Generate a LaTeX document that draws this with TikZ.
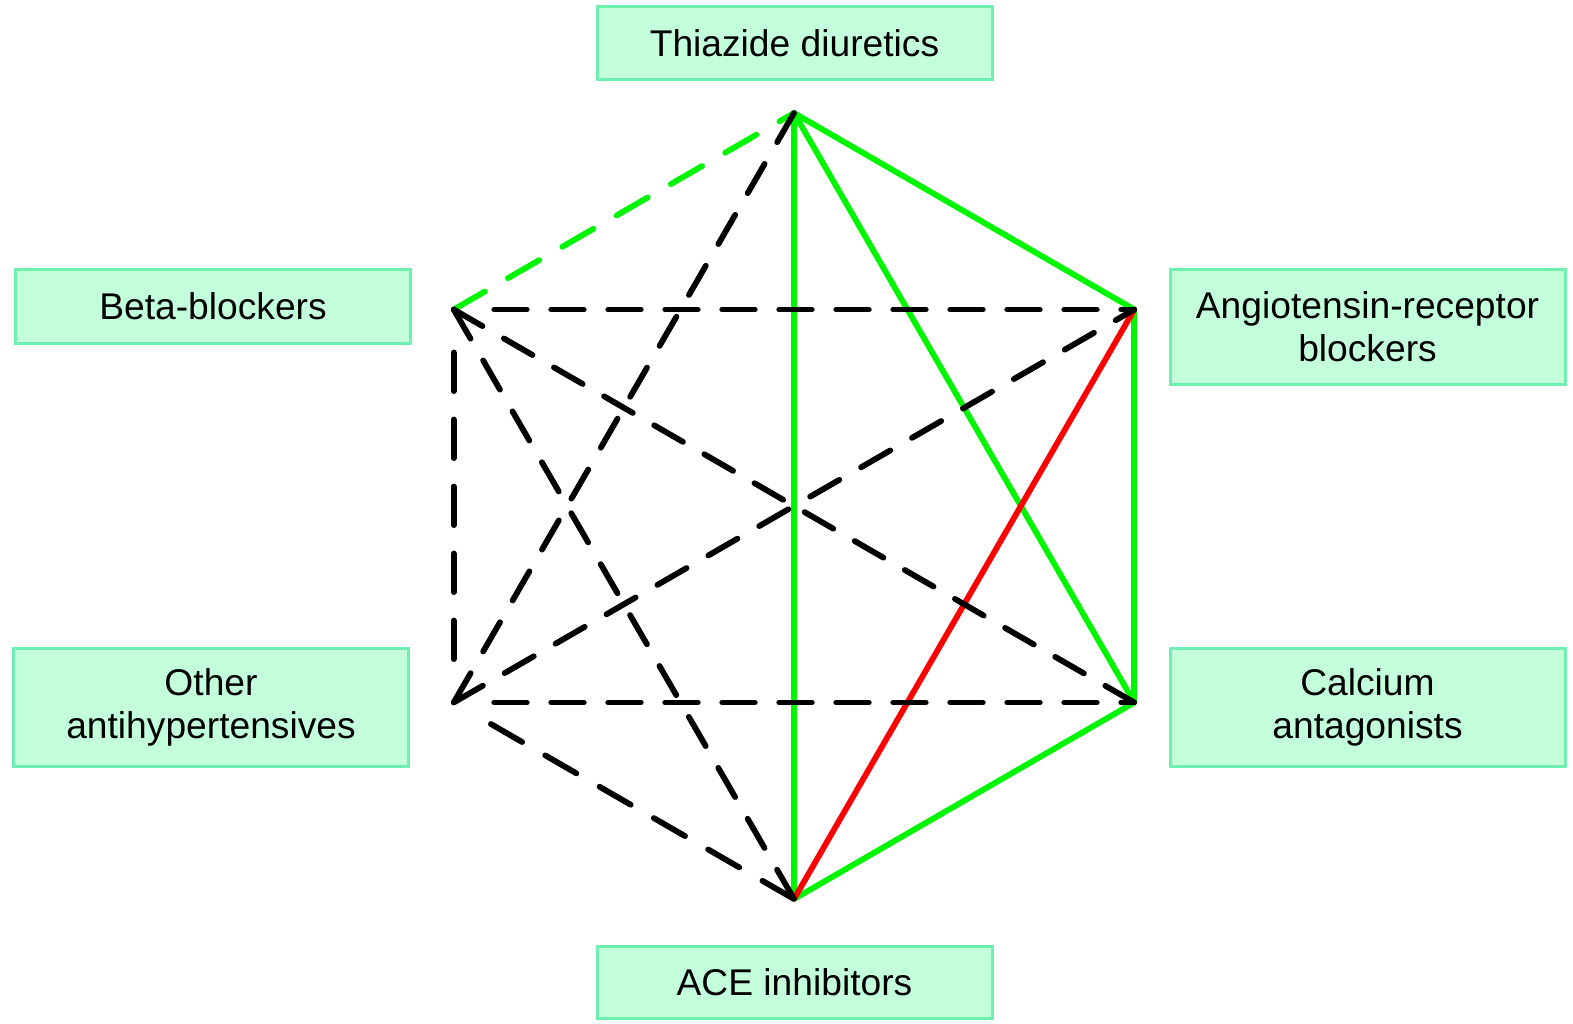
\documentclass[tikz,border=0pt]{standalone}
\usepackage{fontspec}
\setmainfont{Liberation Sans}
\definecolor{boxfill}{RGB}{196,255,220}
\definecolor{boxline}{RGB}{112,240,176}
\definecolor{lgreen}{RGB}{0,245,0}
\definecolor{lred}{RGB}{255,0,0}
\begin{document}
\begin{tikzpicture}[x=0.5pt,y=-0.5pt,
  drug/.style={draw=boxline, fill=boxfill, line width=1.5pt, minimum width=197.5pt,
    align=center, inner sep=0pt, font=\fontsize{18.6}{21.5}\selectfont},
  gline/.style={draw=lgreen, line width=2.9pt},
  rline/.style={draw=lred, line width=2.9pt},
  blk/.style={draw=black, line width=2.9pt, line cap=round},
  gdash/.style={draw=lgreen, line width=2.9pt, line cap=round}]
\useasboundingbox (0,0) rectangle (1573,1023);
% boxes
\node[drug, minimum height=36.5pt] (thz) at (794.5,43) {Thiazide diuretics};
\node[drug, minimum height=37pt] (bb) at (213,306.5) {Beta-blockers};
\node[drug, minimum height=57.5pt] (arb) at (1367.5,327) {Angiotensin-receptor\\blockers};
\node[drug, minimum height=59pt] (oth) at (211,707.5) {Other\\antihypertensives};
\node[drug, minimum height=59pt] (cca) at (1367.5,707.5) {Calcium\\antagonists};
\node[drug, minimum height=36pt] (ace) at (794.5,982.5) {ACE inhibitors};
% hexagon vertices
\coordinate (vT) at (794,113);
\coordinate (vARB) at (1134.3,309.5);
\coordinate (vCA) at (1134.3,702.5);
\coordinate (vACE) at (794,899);
\coordinate (vO) at (453.7,702.5);
\coordinate (vB) at (453.7,309.5);
% green solid
\draw[gline] (vT) -- (vARB);
\draw[gline] (vT) -- (vCA);
\draw[gline] (vT) -- (vACE);
\draw[gline] (vARB) -- (vCA);
\draw[gline] (vCA) -- (vACE);
% red
\draw[rline] (vARB) -- (vACE);
% green dashed
\draw[gdash, dash pattern=on 18pt off 13.35pt] (vB) -- (vT);
% black dashed
\draw[blk, dash pattern=on 16.85pt off 12.55pt] (vT) -- (vO);
\draw[blk, dash pattern=on 16.3pt off 12.2pt, shorten <=20.25pt] (vB) -- (vARB);
\draw[blk, dash pattern=on 16.585pt off 12.355pt] (vB) -- (vCA);
\draw[blk, dash pattern=on 19.3pt off 14.2pt, shorten <=21.5pt, shorten >=21.5pt] (vB) -- (vO);
\draw[blk, dash pattern=on 16.85pt off 12.55pt] (vB) -- (vACE);
\draw[blk, dash pattern=on 16.85pt off 12.55pt] (vO) -- (vARB);
\draw[blk, dash pattern=on 16.3pt off 12.2pt, shorten <=20.25pt] (vO) -- (vCA);
\draw[blk, dash pattern=on 18pt off 13.35pt, shorten <=21.5pt] (vO) -- (vACE);
\end{tikzpicture}
\end{document}
